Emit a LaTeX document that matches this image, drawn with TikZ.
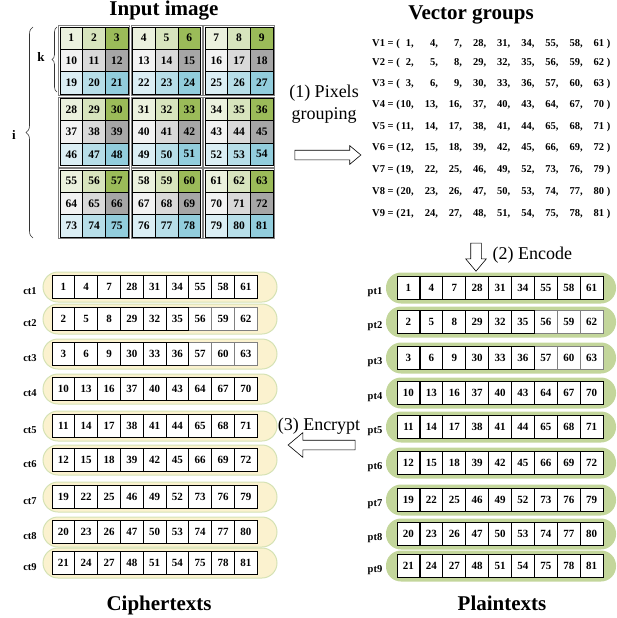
\documentclass[tikz,border=0pt]{standalone}
\usepackage{fontspec}
\setmainfont{Liberation Serif}
\usetikzlibrary{shapes.arrows,decorations.pathreplacing}

\definecolor{gnA}{HTML}{EBF1DE}
\definecolor{gnB}{HTML}{D7E4BD}
\definecolor{gnC}{HTML}{9BBB59}
\definecolor{gyA}{HTML}{F2F2F2}
\definecolor{gyB}{HTML}{D9D9D9}
\definecolor{gyC}{HTML}{A6A6A6}
\definecolor{blA}{HTML}{DBEEF4}
\definecolor{blB}{HTML}{B7DEE8}
\definecolor{blC}{HTML}{92CDDC}
\definecolor{ctfill}{HTML}{FBF2CF}
\definecolor{ctline}{HTML}{D5E2B4}
\definecolor{ptfill}{HTML}{C3D69B}

\newcommand\vfirst[1]{\makebox[11.4pt][r]{#1}}
\newcommand\vnext[1]{,\makebox[21.5pt][r]{#1}}

\begin{document}
\begin{tikzpicture}[x=1pt,y=-1pt,
    title/.style={font=\fontsize{21}{25}\selectfont\bfseries},
    steplbl/.style={font=\fontsize{18}{22}\selectfont},
    pix/.style={draw, line width=0.7pt, minimum width=22.7pt, minimum height=22.3pt,
      inner sep=0pt, font=\fontsize{11.5}{13}\selectfont\bfseries},
    slot/.style={draw, fill=white, line width=0.8pt, minimum width=22.8pt,
      minimum height=22.5pt, inner sep=0pt, font=\fontsize{11}{13}\selectfont\bfseries},
    ctbar/.style={draw=ctline, fill=ctfill, line width=1pt, rounded corners=15pt,
      minimum width=234pt, minimum height=30pt, inner sep=0pt},
    ptbar/.style={fill=ptfill, rounded corners=15pt, minimum width=230pt,
      minimum height=31pt, inner sep=0pt},
    rowlbl/.style={font=\fontsize{10.5}{12}\selectfont\bfseries},
    vec/.style={anchor=base west, inner sep=0pt, font=\fontsize{10.5}{12}\selectfont\bfseries},
    bigarrow/.style={single arrow, draw, fill=white, line width=0.6pt, inner xsep=0pt,
      single arrow tip angle=80}
  ]
  \useasboundingbox (0,0) rectangle (616,618);

  % input image, 3x3 blocks of 3x3 pixels
  \foreach \bi in {0,1,2}
    \foreach \bj in {0,1,2}
      \foreach \r/\fam in {0/gn,1/gy,2/bl}
        \foreach \c/\shade in {0/A,1/B,2/C} {
          \pgfmathtruncatemacro\v{(3*\bi+\r)*9+3*\bj+\c+1}
          \node[pix, fill=\fam\shade] (g\v) at ({60+72.5*\bj+22.7*(\c+0.5)}, {27+71.5*\bi+22.3*(\r+0.5)}) {\v};
        }
  \foreach \bi in {0,1,2}
    \foreach \bj in {0,1,2} {
      \pgfmathtruncatemacro\tl{27*\bi+3*\bj+1}
      \pgfmathtruncatemacro\br{27*\bi+18+3*\bj+3}
      \draw[gray, line width=0.6pt] ([shift={(-1.3,-1.3)}]g\tl.north west) rectangle ([shift={(1.3,1.3)}]g\br.south east);
    }
  \node[title, anchor=base] (intitle) at (164,16) {Input image};

  \draw[decorate, decoration={brace, amplitude=5pt}, line width=0.6pt, black!80] (57,92) -- (57,27);
  \draw[decorate, decoration={brace, amplitude=7pt}, line width=0.6pt, black!80] (33,238) -- (33,27);
  \node[font=\fontsize{13}{15}\selectfont\bfseries] (k) at (41,57) {k};
  \node[font=\fontsize{13}{15}\selectfont\bfseries] (i) at (14,135) {i};

  % vector groups
  \node[title, anchor=base] (vtitle) at (471,20) {Vector groups};
  \node[vec] (v1) at (372,46.5) {V1 = (\vfirst{1}\vnext{4}\vnext{7}\vnext{28}\vnext{31}\vnext{34}\vnext{55}\vnext{58}\vnext{61}\ )};
  \node[vec] (v2) at (372,65.5) {V2 = (\vfirst{2}\vnext{5}\vnext{8}\vnext{29}\vnext{32}\vnext{35}\vnext{56}\vnext{59}\vnext{62}\ )};
  \node[vec] (v3) at (372,86.5) {V3 = (\vfirst{3}\vnext{6}\vnext{9}\vnext{30}\vnext{33}\vnext{36}\vnext{57}\vnext{60}\vnext{63}\ )};
  \node[vec] (v4) at (372,107.5) {V4 = (\vfirst{10}\vnext{13}\vnext{16}\vnext{37}\vnext{40}\vnext{43}\vnext{64}\vnext{67}\vnext{70}\ )};
  \node[vec] (v5) at (372,129.5) {V5 = (\vfirst{11}\vnext{14}\vnext{17}\vnext{38}\vnext{41}\vnext{44}\vnext{65}\vnext{68}\vnext{71}\ )};
  \node[vec] (v6) at (372,150.5) {V6 = (\vfirst{12}\vnext{15}\vnext{18}\vnext{39}\vnext{42}\vnext{45}\vnext{66}\vnext{69}\vnext{72}\ )};
  \node[vec] (v7) at (372,172.5) {V7 = (\vfirst{19}\vnext{22}\vnext{25}\vnext{46}\vnext{49}\vnext{52}\vnext{73}\vnext{76}\vnext{79}\ )};
  \node[vec] (v8) at (372,194.5) {V8 = (\vfirst{20}\vnext{23}\vnext{26}\vnext{47}\vnext{50}\vnext{53}\vnext{74}\vnext{77}\vnext{80}\ )};
  \node[vec] (v9) at (372,216.5) {V9 = (\vfirst{21}\vnext{24}\vnext{27}\vnext{48}\vnext{51}\vnext{54}\vnext{75}\vnext{78}\vnext{81}\ )};

  % plaintexts and ciphertexts
  \foreach \n/\yc/\yp in {1/287/288,2/319/322,3/354/358,4/389/393,5/426/427,6/460/463,7/497/500,8/532/534,9/563/566} {
    \pgfmathtruncatemacro\R{int((\n-1)/3)}
    \pgfmathtruncatemacro\cc{mod(\n-1,3)}
    \node[ptbar] (ptbg\n) at (501,\yp) {};
    \node[ctbar] (ctbg\n) at (160,\yc) {};
    \node[rowlbl] (ptl\n) at (375,\yp+4) {pt\n};
    \node[rowlbl] (ctl\n) at (30,\yc+4) {ct\n};
    \foreach \k in {8,7,...,0} {
      \pgfmathtruncatemacro\v{(3*int(\k/3)+\R)*9+3*mod(\k,3)+\cc+1}
      \pgfmathsetmacro\edge{(\n>1 && \n<4 && \k>5) ? "gray" : "black"}
      \node[slot, draw=\edge] (pt\n-\k) at ({397+22.9*(\k+0.5)},\yp) {\v};
      \node[slot, draw=\edge] (ct\n-\k) at ({52+22.8*(\k+0.5)},\yc) {\v};
    }
  }
  \node[title, anchor=base] (pttitle) at (502,610) {Plaintexts};
  \node[title, anchor=base] (cttitle) at (159,610) {Ciphertexts};

  % processing steps
  \node[bigarrow, minimum height=66pt, inner ysep=4.5pt, single arrow head extend=4.5pt] (grouping) at (325,155) {};
  \node[steplbl, align=center] (grouplbl) at (324,104) {(1) Pixels\\grouping};
  \node[bigarrow, rotate=-90, minimum height=28pt, inner ysep=5pt, single arrow head extend=5pt] (encode) at (476,254) {};
  \node[steplbl, anchor=base west] (encodelbl) at (489,259) {(2) Encode};
  \node[bigarrow, rotate=180, minimum height=67pt, inner ysep=4.5pt, single arrow head extend=7.5pt] (encrypt) at (324.5,445) {};
  \node[steplbl, anchor=base] (encryptlbl) at (319,430) {(3) Encrypt};
\end{tikzpicture}
\end{document}
